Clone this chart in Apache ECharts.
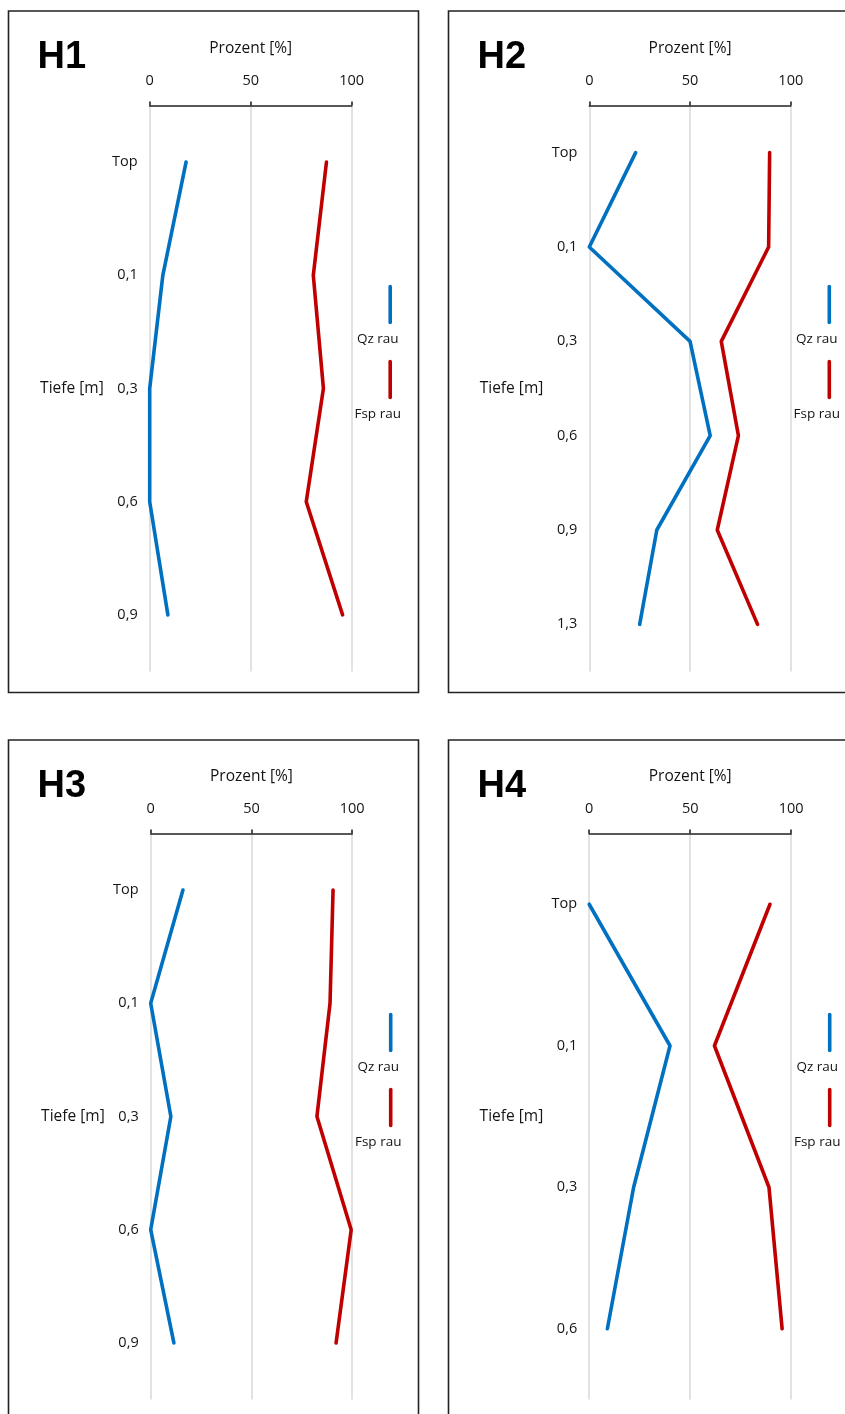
<!DOCTYPE html>
<html>
<head>
<meta charset="utf-8">
<script src="https://cdn.jsdelivr.net/npm/echarts@6/dist/echarts.min.js"></script>
<style>
  html, body { margin: 0; padding: 0; background: #fff; }
  #chart { width: 845px; height: 1414px; }
</style>
</head>
<body>
<div id="chart"></div>
<script>
// Profile panels: share of rough quartz and feldspar grains per depth
const panelTitles = ['H1', 'H2', 'H3', 'H4'];
const seriesNames = ['Qz rau', 'Fsp rau'];

const depthH1 = ['Top', '0,1', '0,3', '0,6', '0,9'];
const qzH1 = [18, 6.5, 0, 0, 9];
const fspH1 = [87.5, 81, 86, 77.5, 95.5];

const depthH2 = ['Top', '0,1', '0,3', '0,6', '0,9', '1,3'];
const qzH2 = [23, 0, 50, 60, 33.5, 25];
const fspH2 = [89.5, 89, 65.5, 74, 63.5, 83.5];

const depthH3 = ['Top', '0,1', '0,3', '0,6', '0,9'];
const qzH3 = [16, 0, 10, 0, 11.5];
const fspH3 = [90.5, 89, 82.5, 99.5, 92];

const depthH4 = ['Top', '0,1', '0,3', '0,6'];
const qzH4 = [0, 40, 22, 9];
const fspH4 = [89.5, 62, 89, 95.5];

const percentMin = 0;
const percentMax = 100;
const percentStep = 50;

const xAxisName = 'Prozent [%]';
const yAxisName = 'Tiefe [m]';

const depths = [depthH1, depthH2, depthH3, depthH4];
const qz = [qzH1, qzH2, qzH3, qzH4];
const fsp = [fspH1, fspH2, fspH3, fspH4];

const colors = ['#0070C0', '#C00000'];
const textColor = '#141414';
const font = '"Open Sans", "Noto Sans", sans-serif';

// panel frames and plot rectangles
const frames = [
  { x: 8.5, y: 11, w: 410, h: 681.5 },
  { x: 448.5, y: 11, w: 420, h: 681.5 },
  { x: 8.5, y: 740, w: 410, h: 700 },
  { x: 448.5, y: 740, w: 420, h: 700 }
];
const plots = [
  { left: 149.7, top: 105.5, width: 202, height: 566 },
  { left: 589.3, top: 105.5, width: 201.5, height: 566 },
  { left: 150.7, top: 833.5, width: 201.5, height: 566 },
  { left: 589.2, top: 833.5, width: 202, height: 566 }
];

const chart = echarts.init(document.getElementById('chart'), null, { renderer: 'canvas' });

const grid = [], xAxis = [], yAxis = [], series = [], graphic = [];

plots.forEach((p, i) => {
  grid.push({ left: p.left, top: p.top, width: p.width, height: p.height });
  xAxis.push({
    type: 'value', gridIndex: i, position: 'top',
    min: percentMin, max: percentMax, interval: percentStep,
    name: xAxisName, nameLocation: 'middle', nameGap: 49,
    nameTextStyle: { color: textColor, fontFamily: font, fontSize: 15.5 },
    axisLine: { show: true, lineStyle: { color: '#222', width: 1.6 } },
    axisTick: { show: true, length: 4, lineStyle: { color: '#222', width: 1.6 } },
    axisLabel: { margin: 17, color: textColor, fontFamily: font, fontSize: 14.5 },
    splitLine: { show: true, lineStyle: { color: '#d9d9d9', width: 1.5 } }
  });
  yAxis.push({
    type: 'category', gridIndex: i, inverse: true, data: depths[i],
    name: yAxisName, nameLocation: 'middle', nameRotate: 0, nameGap: 46,
    nameTextStyle: { color: textColor, fontFamily: font, fontSize: 15.5 },
    axisLine: { show: false }, axisTick: { show: false },
    axisLabel: { margin: 12, color: textColor, fontFamily: font, fontSize: 14.5 },
    splitLine: { show: false }
  });
  [qz[i], fsp[i]].forEach((vals, k) => {
    series.push({
      type: 'line', name: seriesNames[k], xAxisIndex: i, yAxisIndex: i,
      data: vals, showSymbol: false, symbol: 'none', clip: false,
      lineStyle: { color: colors[k], width: 3.6, cap: 'round', join: 'round' },
      itemStyle: { color: colors[k] }
    });
  });

  // panel frame and title
  const f = frames[i];
  graphic.push({
    type: 'rect', shape: { x: f.x, y: f.y, width: f.w, height: f.h },
    style: { fill: 'none', stroke: '#222', lineWidth: 1.6 }, silent: true
  });
  graphic.push({
    type: 'text', x: f.x + 29, y: f.y + 47,
    style: { text: panelTitles[i], fill: '#000', font: 'bold 38px "Liberation Sans", Arial, sans-serif', verticalAlign: 'middle', textAlign: 'left' }
  });

  // legend: short vertical stroke with the series name underneath
  const lx = p.left + p.width + 38.5;
  const ly = p.top + 181;
  seriesNames.forEach((name, k) => {
    const y0 = ly + k * 75;
    graphic.push({
      type: 'line', shape: { x1: lx, y1: y0, x2: lx, y2: y0 + 36 },
      style: { stroke: colors[k], lineWidth: 3.6, lineCap: 'round' }, silent: true
    });
    graphic.push({
      type: 'text', x: lx - 12.5, y: y0 + 53,
      style: { text: name, fill: textColor, font: '13.5px ' + font, textAlign: 'center', verticalAlign: 'middle' }
    });
  });
});

chart.setOption({
  backgroundColor: '#fff',
  animation: false,
  grid, xAxis, yAxis, series, graphic
});
</script>
</body>
</html>
